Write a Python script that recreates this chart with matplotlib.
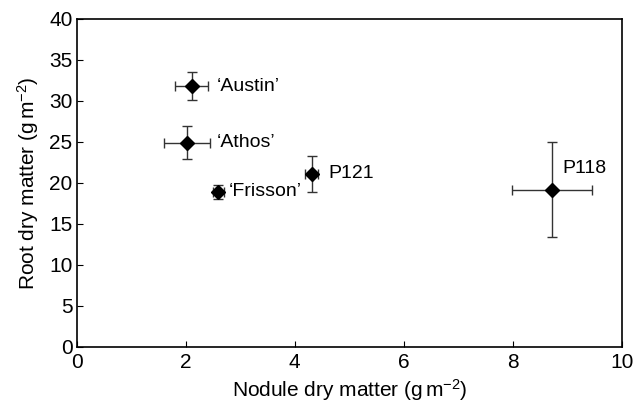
import matplotlib
matplotlib.use("Agg")
import matplotlib.pyplot as plt

plt.rcParams['font.family'] = ['Liberation Sans', 'DejaVu Sans']
plt.rcParams['mathtext.fontset'] = 'custom'
plt.rcParams['mathtext.rm'] = 'Liberation Sans'
plt.rcParams['mathtext.it'] = 'Liberation Sans:italic'

cultivars = ["\u2018Austin\u2019", "\u2018Athos\u2019", "\u2018Frisson\u2019", "P121", "P118"]
nodule = [2.11, 2.02, 2.60, 4.31, 8.72]
nodule_err = [0.30, 0.42, 0.10, 0.12, 0.73]
root = [31.8, 24.9, 18.9, 21.1, 19.2]
root_err = [1.7, 2.0, 0.85, 2.2, 5.8]
label_offsets = [(0.46, 0.0), (0.55, 0.0), (0.19, 0.0), (0.30, 0.0), (0.18, 2.6)]

fig = plt.figure(figsize=(6.34, 4.03), dpi=100)
ax = fig.add_axes([0.121, 0.139, 0.860, 0.814])

ax.errorbar(nodule, root, xerr=nodule_err, yerr=root_err, fmt='D', color='black',
            ecolor='#333333', elinewidth=1.0, capsize=3.5, capthick=1.0, markersize=7)

for name, x, y, (dx, dy) in zip(cultivars, nodule, root, label_offsets):
    ax.text(x + dx, y + dy, name, fontsize=14, va='center', ha='left')

ax.set_xlim(0, 10)
ax.set_ylim(0, 40)
ax.set_xticks([0, 2, 4, 6, 8, 10])
ax.set_yticks(range(0, 41, 5))
ax.tick_params(direction='in', labelsize=15, length=4)
ax.tick_params(axis='x', pad=4)
ax.tick_params(axis='y', pad=3)
ax.set_xlabel(r'Nodule dry matter (g$\,$m$^{\mathrm{-2}}$)', fontsize=15, labelpad=4)
ax.set_ylabel(r'Root dry matter (g$\,$m$^{\mathrm{-2}}$)', fontsize=15, labelpad=6)
for s in ax.spines.values():
    s.set_linewidth(1.2)

fig.savefig("out.png", dpi=100)
